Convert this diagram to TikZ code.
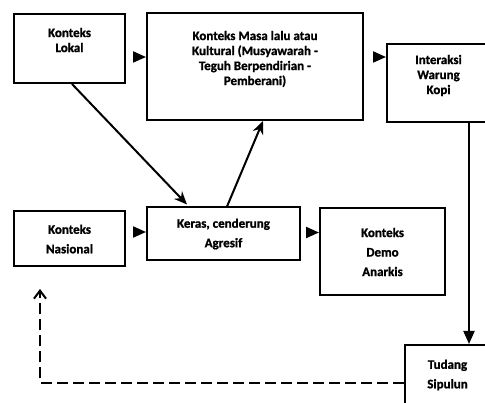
\documentclass[tikz,border=0pt]{standalone}
\usepackage{fontspec}
\setmainfont{Carlito}[BoldFont={Carlito Bold},BoldFeatures={FakeBold=1.2}]
\usetikzlibrary{arrows.meta}

\begin{document}
\begin{tikzpicture}[x=1pt,y=-1pt,
    box/.style={draw,line width=2pt,align=center,inner sep=0pt,
        font=\bfseries\fontsize{13}{15}\selectfont},
    wide/.style={font=\bfseries\fontsize{13}{19.5}\selectfont},
    hd/.style={-{Triangle[length=13pt,width=11pt]},line width=2pt,shorten <=9pt},
    ln/.style={-{Stealth[length=13pt,width=11pt]},line width=2pt},
    dsh/.style={-{Straight Barb[length=8pt,width=12pt]},line width=2pt,
        dash pattern=on 11pt off 5pt}]
    \useasboundingbox (0,0) rectangle (485,403);
    % kotak
    \node[box,minimum width=111,minimum height=69] (lokal) at (69.5,48.5) {Konteks\\Lokal\\[2pt]\mbox{}};
    \node[box,minimum width=216,minimum height=107] (masa) at (255,66.5)
        {Konteks Masa lalu atau\\Kultural (Musyawarah -\\Teguh Berpendirian -\\Pemberani)\\[2pt]\mbox{}};
    \node[box,minimum width=103,minimum height=78] (interaksi) at (438.5,83) {Interaksi\\Warung\\Kopi\\[2pt]\mbox{}};
    \node[box,wide,minimum width=111,minimum height=55] (nasional) at (69.5,239) {Konteks\\Nasional};
    \node[box,wide,minimum width=153,minimum height=53] (keras) at (223.5,234) {Keras, cenderung\\Agresif};
    \node[box,wide,minimum width=125,minimum height=87] (demo) at (382.5,252) {Konteks\\Demo\\Anarkis};
    \node[box,wide,minimum width=86,minimum height=60] (tudang) at (447.5,375) {Tudang\\Sipulun};
    % panah
    \foreach \a/\b/\s in {lokal/masa/-8.5, masa/interaksi/9.5, nasional/keras/7, keras/demo/1.5}
        \draw[hd] ([yshift=\s pt]\a.east) -- ([yshift=\s pt]\a.east -| \b.west);
    \draw[ln] ([xshift=2.5pt]lokal.south) -- ([xshift=-36.5pt,yshift=2pt]keras.north);
    \draw[ln] ([xshift=3.5pt]keras.north) -- ([xshift=8pt]masa.south);
    \draw[hd,shorten <=0pt] ([xshift=30.5pt]interaksi.south) -- ([xshift=30.5pt]interaksi.south |- tudang.north);
    \draw[dsh] ([yshift=-8pt]tudang.west) -| ([xshift=-29.5pt,yshift=-21.5pt]nasional.south);
\end{tikzpicture}
\end{document}
